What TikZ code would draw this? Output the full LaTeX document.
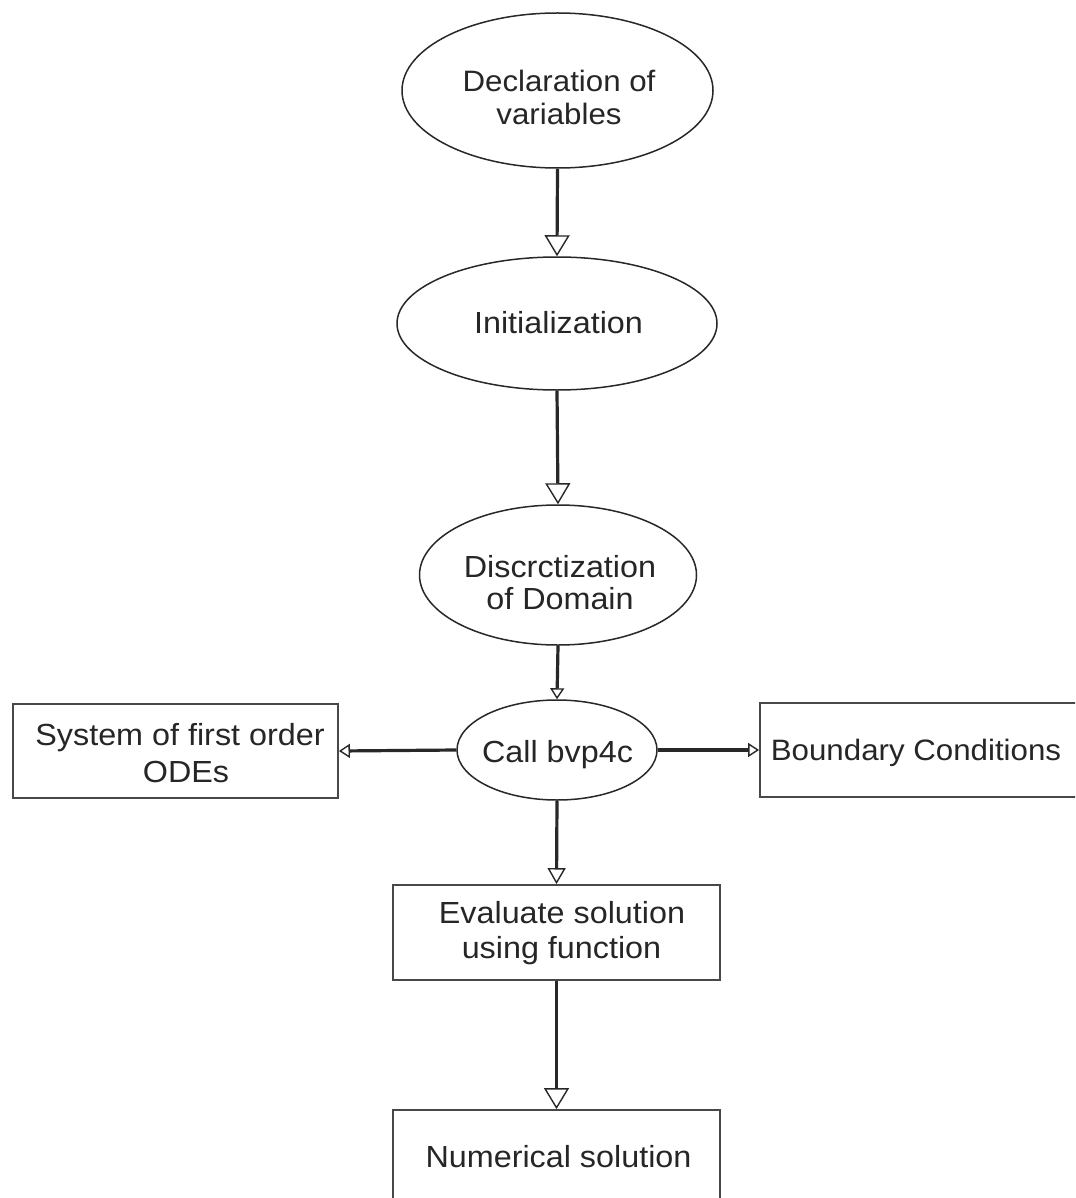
\documentclass[tikz,border=0pt]{standalone}
\usepackage{fontspec}
\setmainfont{Liberation Sans}[FakeStretch=1.06]
\usetikzlibrary{shapes.geometric,arrows.meta}
\definecolor{linec}{RGB}{40,40,40}
\definecolor{txtc}{RGB}{38,38,38}
\begin{document}
\begin{tikzpicture}[x=1pt,y=-1pt,
  txt/.style={text=txtc, font=\fontsize{30.5}{36}\selectfont, inner sep=0pt, anchor=base},
  txtsm/.style={txt, font=\fontsize{29.5}{36}\selectfont},
  oval/.style={ellipse, draw=linec, line width=1.5pt, inner sep=0pt},
  boxnode/.style={rectangle, draw=linec!85, line width=1.8pt, inner sep=0pt},
  flow/.style={draw=linec, line width=3.2pt},
  bigtip/.style={-{Triangle[open, length=21pt, width=25pt, line width=1.4pt]}},
  midtip/.style={-{Triangle[open, length=16pt, width=18pt, line width=1.4pt]}},
  smalltip/.style={-{Triangle[open, length=11pt, width=14pt, line width=1.4pt]}}]
\useasboundingbox (0,0) rectangle (1075,1198);
\clip (0,0) rectangle (1075,1198);
\fill[white] (0,0) rectangle (1075,1198);

% shapes
\node[oval, minimum width=311pt, minimum height=155pt] (decl) at (557.5,90.5) {};
\node[oval, minimum width=320pt, minimum height=133pt] (init) at (557,323.5) {};
\node[oval, minimum width=277pt, minimum height=140pt] (disc) at (558,575) {};
\node[oval, minimum width=200pt, minimum height=100pt] (call) at (557,750) {};
\node[boxnode, minimum width=325pt, minimum height=94pt] (ode) at (175.5,751) {};
\node[boxnode, minimum width=380pt, minimum height=94pt] (bc) at (950,750) {};
\node[boxnode, minimum width=327pt, minimum height=95pt] (eval) at (556.5,932.5) {};
\node[boxnode, minimum width=327pt, minimum height=100pt] (num) at (556.5,1160) {};

% texts
\node[txtsm] (declA) at (559,92) {Declaration of};
\node[txtsm] (declB) at (559,125) {variables};
\node[txt] (initA) at (558.5,333) {Initialization};
\node[txt] (discA) at (560,577) {Discrctization};
\node[txt] (discB) at (560,609) {of Domain};
\node[txt] (callA) at (557.5,762) {Call bvp4c};
\node[txt] (odeA) at (180,745) {System of first order};
\node[txt] (odeB) at (186,782) {ODEs};
\node[txtsm] (bcA) at (916,760) {Boundary Conditions};
\node[txt] (evalA) at (562,923) {Evaluate solution};
\node[txt] (evalB) at (561.5,958) {using function};
\node[txt] (numA) at (558.5,1167) {Numerical solution};

% connectors
\draw[flow, bigtip] (decl.south) -- (init.north);
\draw[flow, bigtip] (init.south) -- (disc.north);
\draw[flow, smalltip] (disc.south) -- (call.north);
\draw[flow, smalltip] (call.west) -- (ode.east);
\draw[flow, smalltip] (call.east) -- (bc.west);
\draw[flow, midtip] (call.south) -- (eval.north);
\draw[flow, bigtip] (eval.south) -- (num.north);
\end{tikzpicture}
\end{document}
